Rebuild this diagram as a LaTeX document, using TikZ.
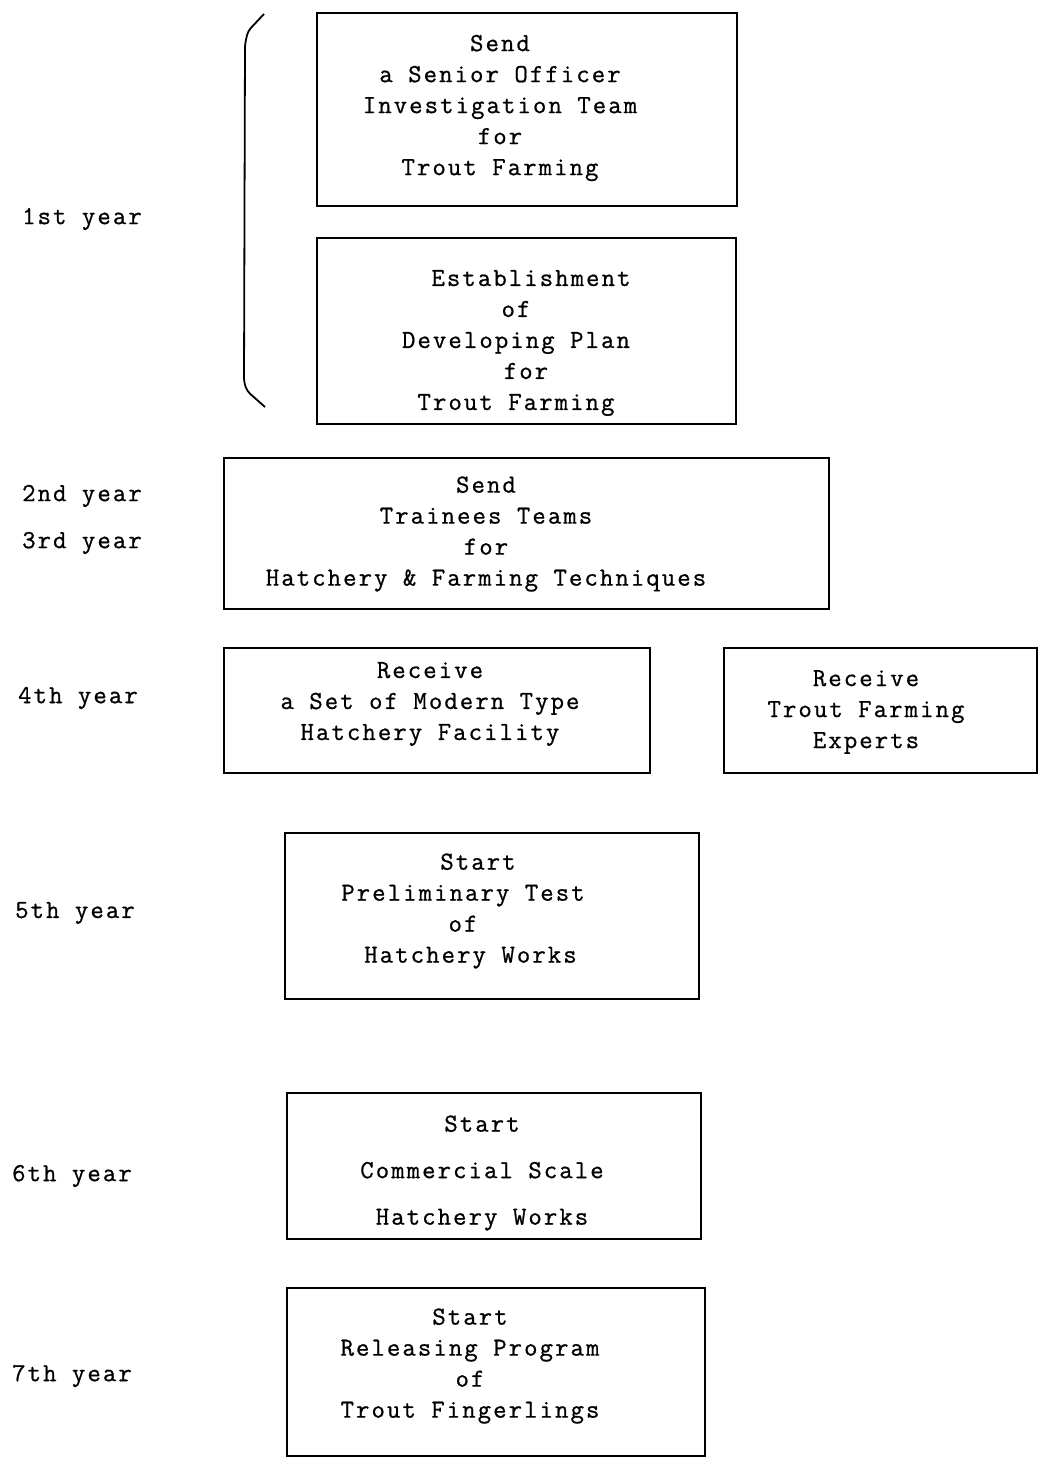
\documentclass[tikz,border=0pt]{standalone}
\usepackage{fontspec}
\setmonofont{Latin Modern Mono}[LetterSpace=8.0,FakeBold=0.8]
\begin{document}
\begin{tikzpicture}[x=1pt,y=-1pt,
  stage/.style={draw, line width=1.8pt, inner sep=0pt, anchor=north west},
  caption/.style={font=\ttfamily\fontsize{26}{31}\selectfont, align=center, inner sep=0pt},
  widecaption/.style={font=\ttfamily\fontsize{26}{46.5}\selectfont, align=center, inner sep=0pt},
  yearlabel/.style={font=\ttfamily\fontsize{26}{31}\selectfont, anchor=west, inner sep=0pt}]
\useasboundingbox (0,0) rectangle (1038,1461);

% stage boxes
\node[stage, minimum width=420pt, minimum height=193pt] (officer) at (316,12) {};
\node[stage, minimum width=419pt, minimum height=186pt] (plan) at (316,237) {};
\node[stage, minimum width=605pt, minimum height=151pt] (trainees) at (223,457) {};
\node[stage, minimum width=426pt, minimum height=125pt] (facility) at (223,647) {};
\node[stage, minimum width=313pt, minimum height=125pt] (experts) at (723,647) {};
\node[stage, minimum width=414pt, minimum height=166pt] (pretest) at (284,832) {};
\node[stage, minimum width=414pt, minimum height=146pt] (commercial) at (286,1092) {};
\node[stage, minimum width=418pt, minimum height=168pt] (release) at (286,1287) {};

% box texts
\node[caption] (officertext) at (500,108) {Send\\a Senior Officer\\Investigation Team\\for\\Trout Farming};
\node[caption] (plantext) at (516,343) {\hspace*{30pt}Establishment\\of\\Developing Plan\\\hspace*{20pt}for\\Trout Farming};
\node[caption] (traineestext) at (486,534) {Send\\Trainees Teams\\for\\Hatchery \& Farming Techniques};
\node[caption] (facilitytext) at (430,704) {Receive\\a Set of Modern Type\\Hatchery Facility};
\node[caption] (expertstext) at (866,712) {Receive\\Trout Farming\\Experts};
\node[caption] (pretesttext) at (463,911) {\hspace*{30pt}Start\\Preliminary Test\\of\\\hspace*{15pt}Hatchery Works};
\node[widecaption] (commercialtext) at (482,1173) {Start\\Commercial Scale\\Hatchery Works};
\node[caption] (releasetext) at (470,1366) {Start\\Releasing Program\\of\\Trout Fingerlings};

% year labels
\node[yearlabel] (y1) at (22,219) {1st year};
\node[yearlabel] (y2) at (22,496) {2nd year};
\node[yearlabel] (y3) at (22,543) {3rd year};
\node[yearlabel] (y4) at (18,698) {4th year};
\node[yearlabel] (y5) at (15,913) {5th year};
\node[yearlabel] (y6) at (12,1176) {6th year};
\node[yearlabel] (y7) at (12,1376) {7th year};

% bracket grouping the first-year boxes
\draw[line width=1.8pt, rounded corners=4pt] (264,14) -- (248,31) -- (245,44) -- (244,382) -- (247,391) -- (265,407);
\end{tikzpicture}
\end{document}
